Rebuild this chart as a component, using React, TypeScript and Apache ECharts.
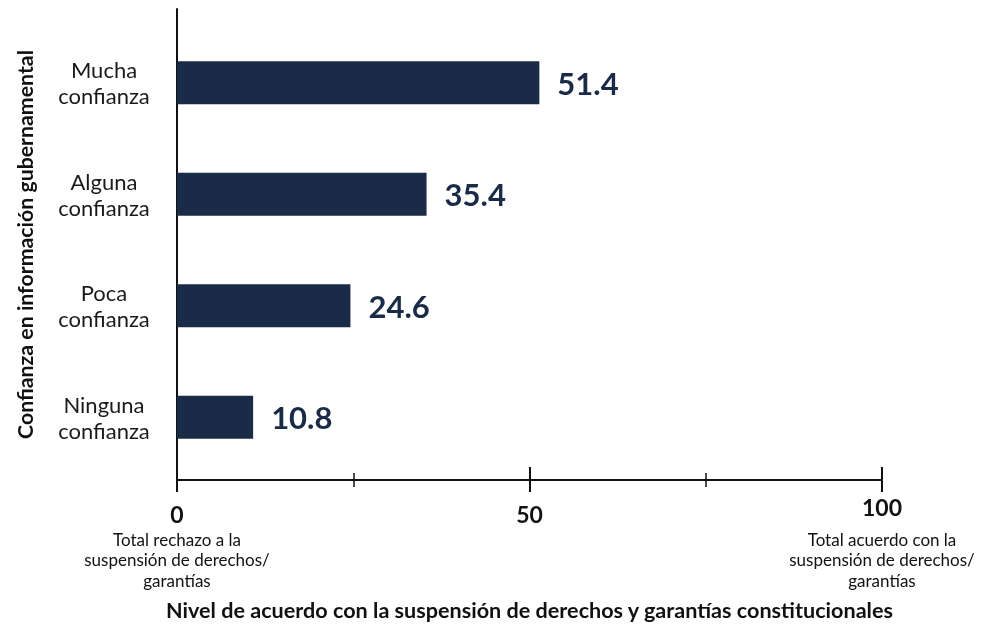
import React, { useEffect, useRef } from "react";
import * as echarts from "echarts";

const categories = ["Mucha\nconfianza", "Alguna\nconfianza", "Poca\nconfianza", "Ninguna\nconfianza"];
const values = [51.4, 35.4, 24.6, 10.8];
const leftNote = ["Total rechazo a la", "suspensión de derechos/", "garantías"];
const rightNote = ["Total acuerdo con la", "suspensión de derechos/", "garantías"];
const xName = "Nivel de acuerdo con la suspensión de derechos y garantías constitucionales";
const yName = "Confianza en información gubernamental";

const FONT = "Lato";
const BAR = "#1a2b47";
const INK = "#111";

export default function App() {
  const ref = useRef<HTMLDivElement>(null);
  useEffect(() => {
    if (!ref.current) return;
    const chart = echarts.init(ref.current, null, { renderer: "svg" });
    const gridPos = { left: 177, width: 705 };
    const labelFmt = (v: number) => {
      const note = v === 0 ? leftNote : v === 100 ? rightNote : null;
      const head = v === 100 ? `{vt|${v}}` : `{sp| }\n{v|${v}}`;
      if (!note) return head;
      return head + "\n" + note.map((t) => `{s|${t}}`).join("\n");
    };
    chart.setOption({
      animation: false,
      grid: [
        { ...gridPos, top: 27, height: 446 },
        { ...gridPos, top: 9, height: 473 },
      ],
      xAxis: [
        { type: "value", gridIndex: 0, min: 0, max: 100, show: false },
        {
          type: "value",
          gridIndex: 1,
          min: 0,
          max: 100,
          interval: 50,
          position: "bottom",
          axisLine: { show: true, onZero: false, lineStyle: { color: INK, width: 2 } },
          axisTick: { show: true, inside: false, length: 12, lineStyle: { color: INK, width: 2 } },
          minorTick: { show: true, splitNumber: 2, length: 7, lineStyle: { color: INK, width: 1.5 } },
          splitLine: { show: false },
          axisLabel: {
            margin: 5,
            formatter: labelFmt,
            rich: {
              sp: { fontSize: 1, lineHeight: 13 },
              v: { fontFamily: FONT, fontSize: 23, fontWeight: "bold", color: INK, lineHeight: 31 },
              vt: { fontFamily: FONT, fontSize: 23, fontWeight: "bold", color: INK, lineHeight: 44 },
              s: { fontFamily: FONT, fontSize: 17, color: INK, lineHeight: 20.5 },
            },
          },
          name: xName,
          nameLocation: "middle",
          nameGap: 119,
          nameTextStyle: { fontFamily: FONT, fontSize: 21.6, fontWeight: "bold", color: INK, verticalAlign: "top" },
        },
        {
          type: "value",
          gridIndex: 1,
          min: 0,
          max: 100,
          interval: 50,
          position: "bottom",
          axisLine: { show: false, onZero: false },
          axisTick: { show: true, inside: true, length: 13, lineStyle: { color: INK, width: 2 } },
          minorTick: { show: true, splitNumber: 2, length: 7, lineStyle: { color: INK, width: 1.5 } },
          splitLine: { show: false },
          axisLabel: { show: false },
        },
      ],
      yAxis: [
        {
          type: "category",
          gridIndex: 0,
          data: categories,
          inverse: true,
          axisLine: { show: false },
          axisTick: { show: false },
          axisLabel: {
            margin: 73,
            align: "center",
            fontFamily: FONT,
            fontSize: 22,
            lineHeight: 26,
            color: "#1a1a1a",
          },
        },
        {
          type: "value",
          gridIndex: 1,
          min: 0,
          max: 1,
          axisLine: { show: true, lineStyle: { color: INK, width: 2 } },
          axisTick: { show: false },
          axisLabel: { show: false },
          splitLine: { show: false },
          name: yName,
          nameLocation: "middle",
          nameRotate: 90,
          nameGap: 142,
          nameTextStyle: { fontFamily: FONT, fontSize: 21.3, fontWeight: "bold", color: INK },
        },
      ],
      series: [
        {
          type: "bar",
          xAxisIndex: 0,
          yAxisIndex: 0,
          data: values,
          barWidth: 43,
          itemStyle: { color: BAR },
          label: {
            show: true,
            position: "right",
            distance: 18,
            fontFamily: FONT,
            fontSize: 31,
            fontWeight: "bold",
            color: BAR,
          },
        },
      ],
    });
    return () => chart.dispose();
  }, []);
  return <div ref={ref} style={{ position: "fixed", left: 0, top: 0, width: 991, height: 626 }} />;
}
